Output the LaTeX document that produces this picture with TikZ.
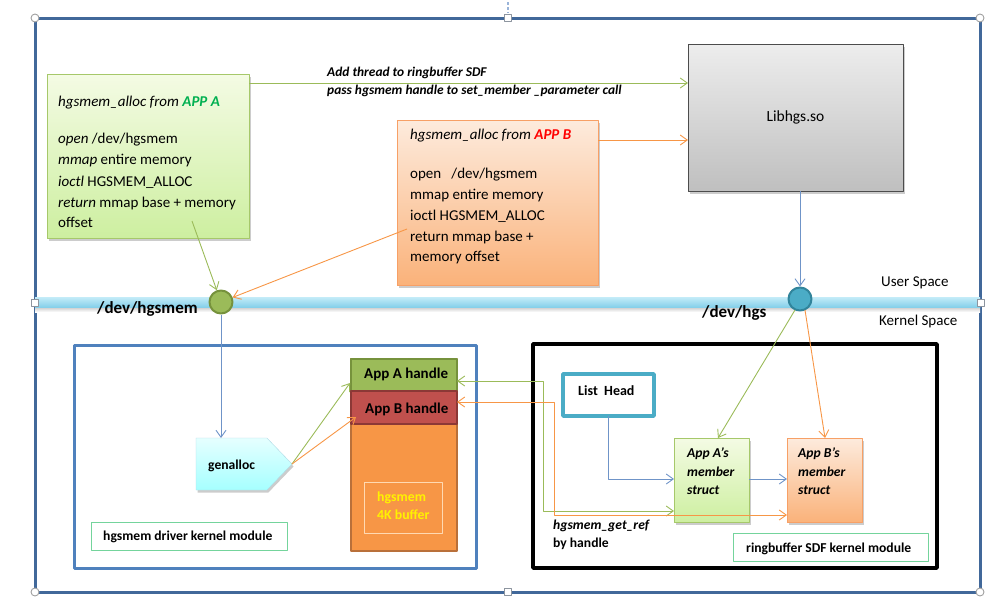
\documentclass[tikz,border=0pt]{standalone}
\usepackage{fontspec}
\setmainfont{Carlito}
\usetikzlibrary{arrows.meta,shadows,shapes.symbols,calc}
\definecolor{frameblue}{HTML}{41689A}
\definecolor{bandtop}{HTML}{C4ECF8}
\definecolor{bandbot}{HTML}{86D0EA}
\definecolor{gborder}{HTML}{A6C86A}
\definecolor{gtop}{HTML}{F4FBE4}
\definecolor{gbot}{HTML}{CDEFA0}
\definecolor{oborder}{HTML}{F7A066}
\definecolor{otop}{HTML}{FDEBDD}
\definecolor{obot}{HTML}{FAB27A}
\definecolor{appgreen}{HTML}{00B050}
\definecolor{lineg}{HTML}{9BBB59}
\definecolor{lineo}{HTML}{F79646}
\definecolor{lineb}{HTML}{6F94C8}
\definecolor{olive}{HTML}{9BBB59}
\definecolor{olivedark}{HTML}{76923C}
\definecolor{teal}{HTML}{4BACC6}
\definecolor{tealdark}{HTML}{31849B}
\definecolor{modblue}{HTML}{4F81BD}
\definecolor{redh}{HTML}{C0504D}
\definecolor{redhd}{HTML}{8C3836}
\definecolor{orh}{HTML}{F79646}
\definecolor{orhd}{HTML}{B9703A}
\definecolor{labgreen}{HTML}{74D49C}
\definecolor{handlegray}{HTML}{A0A0A0}
\newcommand\fz[1]{\fontsize{#1}{#1}\selectfont}
\begin{document}
\begin{tikzpicture}[x=1pt,y=-1pt,line join=round,
  >={Straight Barb[length=7pt,width=10pt]},
  tb/.style={inner sep=0,anchor=base west,font=\fz{15}},
  tbb/.style={inner sep=0,anchor=base west,font=\bfseries\fz{13.6}},
  tbi/.style={inner sep=0,anchor=base west,font=\bfseries\itshape\fz{13.6}},
  garr/.style={draw=lineg,line width=0.9,->},
  oarr/.style={draw=lineo,line width=0.9,->},
  barr/.style={draw=lineb,line width=0.9,->},
  shad/.style={drop shadow={opacity=0.4,shadow xshift=1.5pt,shadow yshift=-2.5pt}},
  boxnode/.style={anchor=north west,inner sep=0,outer sep=0},
  hcirc/.style={circle,draw=handlegray,fill=white,line width=0.9,minimum size=8,inner sep=0},
  hsq/.style={rectangle,draw=handlegray!80!frameblue,fill=white,line width=0.9,minimum size=7,inner sep=0}
]
\useasboundingbox (0,0) rectangle (997,614);

% outer frame
\draw[draw=frameblue,line width=3] (35,18) rectangle (980,592);

% user/kernel band
\shade[top color=black!25,bottom color=white] (35,306) rectangle (980,312);
\shade[top color=bandtop,bottom color=bandbot] (35,297) rectangle (980,307);

% APP A box
\node[boxnode,draw=gborder,top color=gtop,bottom color=gbot,minimum width=202,minimum height=164,shad] (appa) at (47,74) {};
\node[tb] (a1) at (58,106) {\itshape hgsmem\_alloc from \textbf{\color{appgreen}APP A}};
\node[tb] (a2) at (58,143) {\itshape open \upshape /dev/hgsmem};
\node[tb] (a3) at (58,164) {\itshape mmap \upshape entire memory};
\node[tb] (a4) at (58,186) {\itshape ioctl \upshape HGSMEM\_ALLOC};
\node[tb] (a5) at (58,207) {\itshape return \upshape mmap base + memory};
\node[tb] (a6) at (58,227) {offset};

% APP B box
\node[boxnode,draw=oborder,top color=otop,bottom color=obot,minimum width=201,minimum height=165,shad] (appb) at (397,120) {};
\node[tb] (b1) at (410,139) {\itshape hgsmem\_alloc from \textbf{\color{red}APP B}};
\node[tb] (b2) at (410,178) {open \ \ /dev/hgsmem};
\node[tb] (b3) at (410,199) {mmap entire memory};
\node[tb] (b4) at (410,220) {ioctl HGSMEM\_ALLOC};
\node[tb] (b5) at (410,241) {return mmap base +};
\node[tb] (b6) at (410,261) {memory offset};

% Libhgs.so
\node[boxnode,draw=black!70,line width=1,top color=black!7,bottom color=black!25,minimum width=215,minimum height=147,shad] (lib) at (688,44) {};
\node[inner sep=0,font=\fz{15.5}] (libt) at (lib.center) {Libhgs.so};

% arrows to Libhgs
\coordinate (ga) at (appa.north east |- 0,83);
\draw[garr] (ga) -- (ga -| lib.west);
\coordinate (ob) at (appb.north east |- 0,140);
\draw[oarr] (ob) -- (ob -| lib.west);
\node[tbi,font=\bfseries\itshape\fz{13.4}] (l1) at (327,76) {Add thread to ringbuffer SDF};
\node[tbi,font=\bfseries\itshape\fz{13.4}] (l2) at (327,94) {pass hgsmem handle to set\_member \_parameter call};

% device circles
\node[circle,draw=olivedark,fill=olive,line width=2,minimum size=23,inner sep=0] (dhm) at (221,302) {};
\node[circle,draw=tealdark,fill=teal,line width=2,minimum size=23,inner sep=0] (dh) at (800,299) {};
\node[tbb,font=\bfseries\fz{17}] (dhmt) at (97,313) {/dev/hgsmem};
\node[tbb,font=\bfseries\fz{17}] (dht) at (702,317) {/dev/hgs};
\node[tb,font=\fz{15}] (us) at (881,286) {User Space};
\node[tb,font=\fz{15}] (ks) at (879,325) {Kernel Space};

\draw[barr] (lib.south -| dh) -- (dh.north);
\coordinate (gs) at (192,221);
\draw[garr] (gs) -- (dhm);
\coordinate (os) at (407,229);
\draw[oarr] (os) -- (dhm);

% left module
\draw[draw=modblue,line width=3] (74,345) rectangle (476,568);
\node[boxnode,signal,signal to=east,signal from=nowhere,signal pointer angle=92,
  draw=teal!45,top color=cyan!10,bottom color=cyan!35,minimum width=96,minimum height=52,shad] (gen) at (196,438) {};
\node[tbb] (gent) at (208,469) {genalloc};
\draw[barr] (dhm) -- (gen.north -| dhm);

\node[boxnode,draw=orhd,fill=orh,line width=2.2,minimum width=106,minimum height=192] (mem) at (351,359) {};
\node[boxnode,draw=olivedark,fill=olive,line width=2.2,minimum width=106,minimum height=32] (ha) at (351,359) {};
\node[boxnode,draw=redhd,fill=redh,line width=2.2,minimum width=106,minimum height=33] (hb) at (351,391) {};
\node[tbb,font=\bfseries\fz{15}] (hat) at (364,378) {App A handle};
\node[tbb,font=\bfseries\fz{15}] (hbt) at (365,413) {App B handle};
\node[boxnode,draw=orange!30!white,line width=0.8,minimum width=78,minimum height=51] (buf) at (364,482) {};
\node[tbb,font=\bfseries\fz{13.8},text=yellow] (buf1) at (377,501) {hgsmem};
\node[tbb,font=\bfseries\fz{13.8},text=yellow] (buf2) at (377,519) {4K buffer};

\coordinate (ta) at (350,383);
\coordinate (tb) at (356,417);
\draw[garr] (gen.east) -- (ta);
\draw[oarr] (gen.east) -- (tb);

\node[boxnode,draw=labgreen,line width=1,minimum width=196,minimum height=28] (drvbox) at (91,522) {};
\node[tbb] (drvt) at (103,540) {hgsmem driver kernel module};

% right module
\draw[draw=black,line width=3.5] (533,344) rectangle (937,568);
\node[boxnode,draw=teal,line width=3.5,fill=white,minimum width=91,minimum height=42] (lh) at (563,374) {};
\node[tbb,font=\bfseries\fz{14}] (lht) at (578,395) {List\ \ Head};
\node[boxnode,draw=gborder,line width=1,top color=gtop,bottom color=gbot,minimum width=75,minimum height=84,shad] (sa) at (674,438) {};
\node[tbi] (sa1) at (687,457) {App A’s};
\node[tbi] (sa2) at (687,476) {member};
\node[tbi] (sa3) at (687,494) {struct};
\node[boxnode,draw=oborder,line width=1,top color=otop,bottom color=obot,minimum width=75,minimum height=84,shad] (sb) at (787,438) {};
\node[tbi] (sb1) at (798,457) {App B’s};
\node[tbi] (sb2) at (798,476) {member};
\node[tbi] (sb3) at (798,494) {struct};

\coordinate (lhb) at (lh.south -| 608,0);
\draw[barr] (lhb) |- (sa.west |- 0,479);
\draw[barr] (sa.east |- 0,479) -- (sb.west |- 0,479);

\coordinate (dha) at (795,310);
\coordinate (dhb) at (805,310);
\draw[garr] (dha) -- (sa.north -| 718,0);
\draw[oarr] (dhb) -- (sb.north -| 825,0);

% handle lookup connectors
\draw[draw=lineg,line width=0.9,<->] (ha.east |- 0,381) -- (543,381) -- (543,511) -- (sa.west |- 0,511);
\draw[draw=lineo,line width=0.9,<->] (hb.east |- 0,402) -- (554,402) -- (554,515) -- (sb.west |- 0,515);
\node[tbi] (gr1) at (553,529) {hgsmem\_get\_ref};
\node[tbb] (gr2) at (553,547) {by handle};

\node[boxnode,draw=labgreen,line width=1,minimum width=195,minimum height=28] (rbbox) at (733,533) {};
\node[tbb] (rbt) at (746,552) {ringbuffer SDF kernel module};

% selection handles
\draw[draw=lineb!70,line width=1.2,dash pattern=on 3pt off 2pt] (508,2) -- (508,13);
\node[hcirc] (c1) at (35,18) {};
\node[hcirc] (c2) at (980,18) {};
\node[hcirc] (c3) at (35,592) {};
\node[hcirc] (c4) at (980,592) {};
\node[hsq] (s1) at (508,18) {};
\node[hsq] (s2) at (508,592) {};
\node[hsq] (s3) at (35,303) {};
\node[hsq] (s4) at (981,303) {};
\end{tikzpicture}
\end{document}
